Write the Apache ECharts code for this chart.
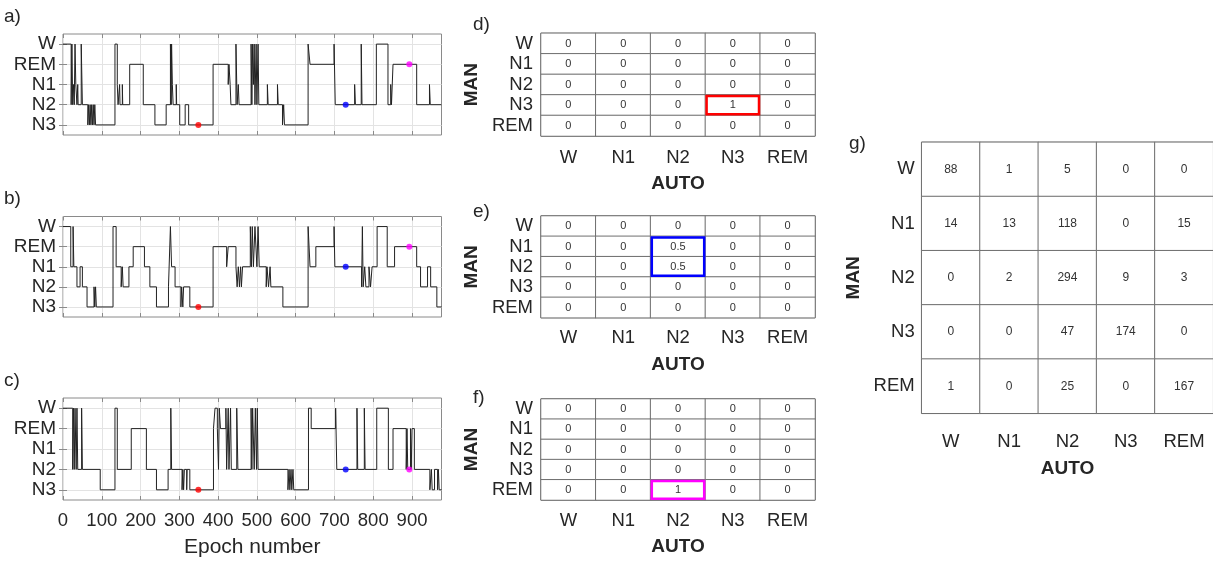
<!DOCTYPE html>
<html><head><meta charset="utf-8">
<script src="https://cdn.jsdelivr.net/npm/echarts@6/dist/echarts.min.js"></script>
<style>html,body{margin:0;padding:0;background:#fff}#c{width:1213px;height:562px}</style>
</head><body><div id="c"></div>
<script>
// ---------------- DATA ----------------
const stages = ['W', 'N1', 'N2', 'N3', 'REM'];
const hypTicks = [1, 2, 3, 4, 5];
const hypTickLabels = ['N3', 'N2', 'N1', 'REM', 'W'];
const hypLevel = { N3: 1, N2: 2, N1: 3, REM: 4, W: 5 };
const totalEpochs = 976;
const epochTicks = [0, 100, 200, 300, 400, 500, 600, 700, 800, 900];

// run-length hypnograms: [start epoch, stage]
const hypA = [
  [0,'W'],[21,'N2'],[23,'W'],[25,'N2'],[27,'N1'],[29,'N2'],[31,'W'],[33,'N1'],[36,'N2'],[38,'N1'],[39,'N2'],[47,'W'],[50,'N2'],
  [64,'N3'],[66,'N2'],[68,'N3'],[70,'N2'],[72,'N3'],[74,'N2'],[76,'N3'],[78,'N2'],[80,'N3'],[82,'N2'],[84,'N3'],
  [134,'W'],[140,'N1'],[142,'N2'],[146,'N1'],[147,'N2'],[153,'N1'],[154,'N2'],
  [172,'REM'],[207,'N2'],[237,'N3'],[266,'N2'],[277,'W'],[279,'N2'],[280,'W'],[282,'N1'],[284,'N2'],[292,'N1'],[293,'N2'],[301,'N3'],[315,'N2'],[324,'N3'],
  [387,'REM'],[426,'N1'],[428,'REM'],[431,'N1'],[433,'N2'],[446,'W'],[449,'N2'],[452,'N1'],[454,'N2'],
  [485,'W'],[487,'N2'],[489,'W'],[491,'N1'],[493,'W'],[495,'N2'],[498,'W'],[500,'N2'],[503,'W'],[505,'N2'],[527,'N1'],[529,'N2'],[553,'N1'],[555,'N2'],
  [566,'N3'],[569,'N2'],[571,'N3'],[632,'W'],[637,'REM'],[699,'W'],[702,'N2'],[752,'N1'],[754,'N2'],[769,'W'],[771,'N2'],
  [808,'W'],[838,'N2'],[845,'N1'],[847,'N2'],[851,'REM'],[912,'N2'],[945,'N1'],[947,'N2']
];
const hypB = [
  [0,'W'],[20,'N1'],[26,'W'],[28,'N1'],[36,'N2'],[44,'N1'],[50,'N2'],[62,'N3'],[80,'N2'],[82,'N3'],[84,'N2'],[86,'N3'],
  [129,'W'],[137,'N1'],[150,'N2'],[153,'N1'],[155,'N2'],[170,'N1'],[181,'REM'],[210,'N1'],[224,'N2'],[241,'N3'],
  [272,'N2'],[277,'W'],[280,'N1'],[289,'N2'],[304,'N3'],[306,'N2'],[309,'N3'],[311,'N2'],[327,'N3'],
  [387,'REM'],[422,'N1'],[426,'REM'],[446,'N1'],[449,'N2'],[452,'N1'],[455,'N2'],[458,'N1'],[460,'N2'],[463,'N1'],
  [483,'W'],[486,'N1'],[488,'W'],[491,'N1'],[495,'W'],[500,'N1'],[503,'W'],[506,'N1'],[524,'N2'],[526,'N1'],[530,'N2'],[534,'N1'],[536,'N2'],
  [567,'N3'],[632,'W'],[637,'N1'],[652,'REM'],[699,'W'],[701,'N1'],[770,'N2'],[772,'W'],[774,'N2'],[778,'N1'],[781,'N2'],[789,'N1'],[793,'N2'],[797,'N1'],
  [810,'W'],[836,'N1'],[855,'REM'],[912,'N1'],[922,'N2'],[940,'N1'],[948,'N2'],[964,'N3']
];
const hypC = [
  [0,'W'],[25,'N2'],[27,'W'],[29,'N2'],[31,'W'],[34,'N2'],[36,'W'],[38,'N2'],[48,'W'],[50,'N2'],[96,'N3'],
  [134,'W'],[140,'N2'],[176,'REM'],[215,'N2'],[241,'N3'],[271,'N2'],[278,'W'],[280,'N2'],
  [307,'N3'],[309,'N2'],[311,'N3'],[313,'N2'],[319,'N3'],[320,'N2'],[327,'N3'],
  [388,'REM'],[392,'W'],[398,'REM'],[401,'N2'],[403,'W'],[406,'REM'],[420,'W'],[422,'N2'],[426,'W'],[428,'N2'],[432,'W'],[434,'N2'],[448,'W'],[451,'N2'],
  [485,'W'],[487,'N2'],[489,'W'],[493,'N2'],[496,'W'],[499,'N2'],[501,'W'],[503,'N2'],
  [580,'N3'],[583,'N2'],[585,'N3'],[588,'N2'],[590,'N3'],[593,'N2'],[595,'N3'],
  [633,'W'],[640,'REM'],[703,'W'],[706,'N2'],[758,'W'],[760,'N2'],[777,'W'],[779,'N2'],
  [809,'W'],[839,'N2'],[851,'REM'],[885,'N2'],[887,'REM'],[889,'N2'],[896,'REM'],[898,'N2'],[900,'REM'],[906,'N2'],
  [946,'N3'],[950,'N2'],[952,'N3'],[958,'N2'],[966,'N3'],[968,'N2'],[970,'N3']
];

const markEpochs = [349, 729, 893];
const markColors = ['#ff0000', '#0000ff', '#ff00ff'];
const markStagesA = ['N3', 'N2', 'REM'];
const markStagesB = ['N3', 'N1', 'REM'];
const markStagesC = ['N3', 'N2', 'N2'];

// matrices: rows = MAN (W,N1,N2,N3,REM), cols = AUTO (W,N1,N2,N3,REM)
const matD = [[0,0,0,0,0],[0,0,0,0,0],[0,0,0,0,0],[0,0,0,1,0],[0,0,0,0,0]];
const matE = [[0,0,0,0,0],[0,0,0.5,0,0],[0,0,0.5,0,0],[0,0,0,0,0],[0,0,0,0,0]];
const matF = [[0,0,0,0,0],[0,0,0,0,0],[0,0,0,0,0],[0,0,0,0,0],[0,0,1,0,0]];
const matG = [[88,1,5,0,0],[14,13,118,0,15],[0,2,294,9,3],[0,0,47,174,0],[1,0,25,0,167]];
// highlight boxes: [column, first row, last row]
const boxD = [3, 3, 3];
const boxE = [2, 1, 2];
const boxF = [2, 4, 4];

// ---------------- BUILD ----------------
const FONT = 'Liberation Sans, Arial, sans-serif';
const TXT = '#262626';
function stepData(h) {
  const d = h.map(r => [r[0], hypLevel[r[1]]]);
  d.push([totalEpochs, hypLevel[h[h.length - 1][1]]]);
  return d;
}
const hypGrids = [
  { left: 63, top: 34, width: 378.5, height: 101 },
  { left: 63, top: 216.5, width: 378.5, height: 100.5 },
  { left: 63, top: 398, width: 378.5, height: 102 }
];
const matGrids = [
  { left: 541, top: 33.3, width: 274, height: 102.7 },
  { left: 541, top: 216, width: 274, height: 101.7 },
  { left: 541, top: 399, width: 274, height: 101 },
  { left: 921.7, top: 142.3, width: 291.5, height: 271 }
];
const grids = [];
hypGrids.concat(matGrids).forEach((g, i) => {
  grids.push(Object.assign({ show: true, borderColor: i < 3 ? '#8a8a8a' : '#555', borderWidth: 1,
    backgroundColor: 'transparent', containLabel: false, outerBoundsMode: 'none' }, g));
});
const xAxes = [], yAxes = [], series = [];
const hyps = [hypA, hypB, hypC];
const markStages = [markStagesA, markStagesB, markStagesC];
for (let i = 0; i < 3; i++) {
  const last = i === 2;
  xAxes.push({
    type: 'value', gridIndex: i, min: 0, max: totalEpochs, position: 'bottom',
    axisLine: { show: false },
    axisTick: { show: true, inside: true, length: 4, lineStyle: { color: '#8a8a8a' }, customValues: epochTicks },
    splitLine: { show: true, lineStyle: { color: '#e3e3e3', width: 1 } },
    axisLabel: { show: last, customValues: epochTicks, fontSize: 18.5, color: TXT, fontFamily: FONT, margin: 11 },
    name: last ? 'Epoch number' : '', nameLocation: 'middle', nameGap: 37,
    nameTextStyle: { fontSize: 21, color: TXT, fontFamily: FONT }
  });
  xAxes.push({
    type: 'value', gridIndex: i, min: 0, max: totalEpochs, position: 'top',
    axisLine: { show: false },
    axisTick: { show: true, inside: true, length: 4, lineStyle: { color: '#8a8a8a' }, customValues: epochTicks },
    splitLine: { show: false }, axisLabel: { show: false }
  });
  yAxes.push({
    type: 'value', gridIndex: i, min: 0.5, max: 5.5, position: 'left',
    axisLine: { show: false },
    axisTick: { show: true, inside: true, length: 4, lineStyle: { color: '#8a8a8a' }, customValues: hypTicks },
    splitLine: { show: true, lineStyle: { color: '#e3e3e3', width: 1 } },
    axisLabel: { show: true, customValues: hypTicks, fontSize: 19, color: TXT, fontFamily: FONT, margin: 7,
      formatter: v => hypTickLabels[Math.round(v) - 1] || '' }
  });
  yAxes.push({
    type: 'value', gridIndex: i, min: 0.5, max: 5.5, position: 'right',
    axisLine: { show: false },
    axisTick: { show: true, inside: true, length: 4, lineStyle: { color: '#8a8a8a' }, customValues: hypTicks },
    splitLine: { show: false }, axisLabel: { show: false }
  });
  series.push({
    type: 'line', xAxisIndex: 2 * i, yAxisIndex: 2 * i, data: stepData(hyps[i]), step: 'end',
    symbol: 'none', lineStyle: { color: '#222222', width: 1 }, silent: true, z: 3
  });
  markEpochs.forEach((e, k) => {
    series.push({
      type: 'scatter', xAxisIndex: 2 * i, yAxisIndex: 2 * i, symbol: 'circle', symbolSize: 6,
      data: [[e, hypLevel[markStages[i][k]]]], itemStyle: { color: markColors[k] }, silent: true, z: 5
    });
  });
}
const mats = [matD, matE, matF, matG];
const boxes = [boxD, boxE, boxF, null];
const boxColors = ['#ff0000', '#0000ff', '#ff00ff'];
const matLabelCfg = [
  { xm: 12, ym: 8, gapX: 38, gapY: 60 },
  { xm: 11, ym: 8, gapX: 38, gapY: 60 },
  { xm: 11, ym: 8, gapX: 37, gapY: 60 },
  { xm: 19, ym: 7, gapX: 46, gapY: 58 }
];
mats.forEach((m, j) => {
  const gi = 3 + j;
  const cfg = matLabelCfg[j];
  xAxes.push({
    type: 'category', gridIndex: gi, data: stages, position: 'bottom',
    axisLine: { show: false }, axisTick: { show: false }, splitLine: { show: false },
    axisLabel: { interval: 0, fontSize: 18.5, color: TXT, fontFamily: FONT, margin: cfg.xm },
    name: 'AUTO', nameLocation: 'middle', nameGap: cfg.gapX,
    nameTextStyle: { fontSize: 19, fontWeight: 'bold', color: TXT, fontFamily: FONT }
  });
  yAxes.push({
    type: 'category', gridIndex: gi, data: stages, inverse: true, position: 'left',
    axisLine: { show: false }, axisTick: { show: false }, splitLine: { show: false },
    axisLabel: { interval: 0, fontSize: 18.5, color: TXT, fontFamily: FONT, margin: cfg.ym },
    name: 'MAN', nameLocation: 'middle', nameGap: cfg.gapY, nameRotate: 90,
    nameTextStyle: { fontSize: 19, fontWeight: 'bold', color: TXT, fontFamily: FONT }
  });
  const data = [];
  m.forEach((row, r) => row.forEach((v, c) => data.push([c, r, v])));
  series.push({
    type: 'heatmap', xAxisIndex: xAxes.length - 1, yAxisIndex: yAxes.length - 1, data: data, silent: true,
    itemStyle: { color: '#ffffff', borderColor: '#6e6e6e', borderWidth: 1 },
    label: { show: true, fontSize: j === 3 ? 12 : 11, color: '#333', fontFamily: FONT, formatter: p => String(p.value[2]) },
    emphasis: { disabled: true }
  });
  if (boxes[j]) {
    series.push({
      type: 'custom', xAxisIndex: xAxes.length - 1, yAxisIndex: yAxes.length - 1, silent: true, z: 10,
      data: [boxes[j]],
      renderItem: (params, api) => {
        const c = api.value(0), r0 = api.value(1), r1 = api.value(2);
        const p0 = api.coord([c, r0]), p1 = api.coord([c, r1]);
        const s = api.size([1, 1]);
        const ins = 1.2;
        return {
          type: 'rect',
          shape: { x: p0[0] - s[0] / 2 + ins, y: Math.min(p0[1], p1[1]) - s[1] / 2 + ins,
                   width: s[0] - 2 * ins, height: Math.abs(p1[1] - p0[1]) + s[1] - 2 * ins },
          style: { fill: 'none', stroke: boxColors[j], lineWidth: 2.5 }
        };
      }
    });
  }
});

const panelLabels = [
  ['a)', 4, 7], ['b)', 4, 189], ['c)', 4, 371],
  ['d)', 473, 15], ['e)', 473, 202], ['f)', 473, 388], ['g)', 849, 134]
];
const option = {
  animation: false,
  backgroundColor: '#ffffff',
  textStyle: { fontFamily: FONT },
  grid: grids, xAxis: xAxes, yAxis: yAxes, series: series,
  graphic: panelLabels.map(p => ({
    type: 'text', left: p[1], top: p[2], silent: true,
    style: { text: p[0], fontSize: 19, fill: TXT, fontFamily: FONT }
  }))
};
const chart = echarts.init(document.getElementById('c'), null, { renderer: 'canvas' });
chart.setOption(option);
</script></body></html>
